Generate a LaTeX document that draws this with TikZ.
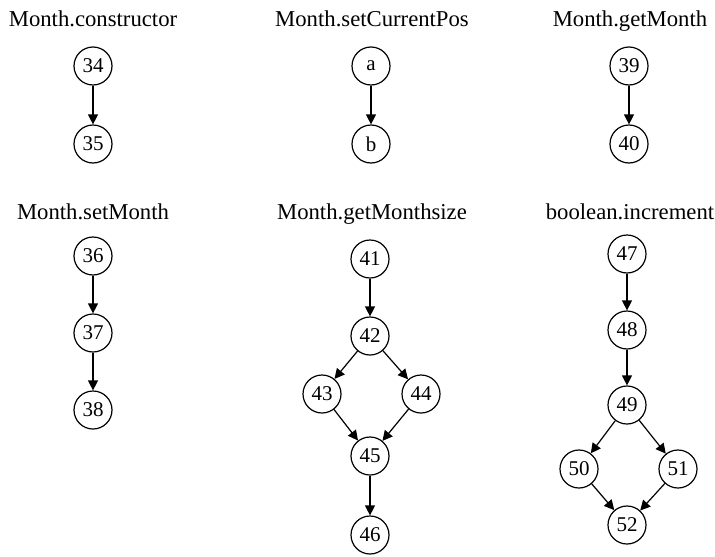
\documentclass[tikz,border=0pt]{standalone}
\usepackage{fontspec}
\setmainfont{Liberation Serif}
\usetikzlibrary{arrows.meta}
\begin{document}
\begin{tikzpicture}[x=1pt,y=-1pt,
  vtx/.style={circle,draw,line width=1.2pt,minimum size=38pt,inner sep=0pt,font=\fontsize{21}{24}\selectfont},
  ttl/.style={inner sep=0pt,anchor=base,font=\fontsize{22.7}{26}\selectfont},
  edge/.style={line width=1.2pt,-{Triangle[length=10pt,width=10pt]}}]
\useasboundingbox (0,0) rectangle (715,557);
% titles
\node[ttl] (t1) at (93,26.5) {Month.constructor};
\node[ttl] (t2) at (372,26.5) {Month.setCurrentPos};
\node[ttl] (t3) at (630,26.5) {Month.getMonth};
\node[ttl] (t4) at (93,219) {Month.setMonth};
\node[ttl] (t5) at (372,219) {Month.getMonthsize};
\node[ttl] (t6) at (630,219) {boolean.increment};
% graph 1
\node[vtx] (n34) at (93,66) {34};
\node[vtx] (n35) at (93,144) {35};
\draw[edge] (n34) -- (n35);
% graph 2
\node[vtx] (na) at (371,66) {a};
\node[vtx] (nb) at (371,144) {b};
\draw[edge] (na) -- (nb);
% graph 3
\node[vtx] (n39) at (629,66) {39};
\node[vtx] (n40) at (629,144) {40};
\draw[edge] (n39) -- (n40);
% graph 4
\node[vtx] (n36) at (93,256) {36};
\node[vtx] (n37) at (93,333) {37};
\node[vtx] (n38) at (93,410) {38};
\draw[edge] (n36) -- (n37);
\draw[edge] (n37) -- (n38);
% graph 5
\node[vtx] (n41) at (370,259) {41};
\node[vtx] (n42) at (370,336) {42};
\node[vtx] (n43) at (322,394) {43};
\node[vtx] (n44) at (421,394) {44};
\node[vtx] (n45) at (370,456) {45};
\node[vtx] (n46) at (370,535) {46};
\draw[edge] (n41) -- (n42);
\draw[edge] (n42) -- (n43);
\draw[edge] (n42) -- (n44);
\draw[edge] (n43) -- (n45);
\draw[edge] (n44) -- (n45);
\draw[edge] (n45) -- (n46);
% graph 6
\node[vtx] (n47) at (627,254) {47};
\node[vtx] (n48) at (627,330) {48};
\node[vtx] (n49) at (627,405) {49};
\node[vtx] (n50) at (579,469) {50};
\node[vtx] (n51) at (678,469) {51};
\node[vtx] (n52) at (627,525) {52};
\draw[edge] (n47) -- (n48);
\draw[edge] (n48) -- (n49);
\draw[edge] (n49) -- (n50);
\draw[edge] (n49) -- (n51);
\draw[edge] (n50) -- (n52);
\draw[edge] (n51) -- (n52);
\end{tikzpicture}
\end{document}
